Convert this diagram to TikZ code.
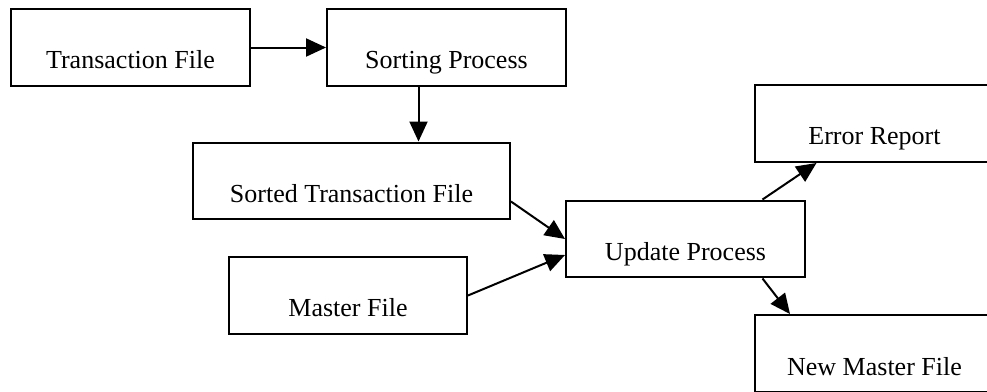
\documentclass[tikz,border=0pt]{standalone}
\usepackage{fontspec}
\setmainfont{Liberation Serif}
\usetikzlibrary{arrows.meta}
\tikzstyle{block} = [rectangle, draw=black, line width=0.04cm, inner sep=0pt, minimum width=4.78cm, text height=1.2cm, text depth=0.34cm, font=\fontsize{14.8}{18}\selectfont]
\tikzstyle{arrow} = [line width=0.04cm, -{Triangle[length=0.4cm, width=0.36cm]}]

\begin{document}
\begin{tikzpicture}[x=0.02cm, y=-0.02cm]
    \useasboundingbox (0,0) rectangle (987,392);
    \clip (0,0) rectangle (987,392);

    \node (tfile) [block] at (130.5,47.5) {Transaction File};
    \node (sortp) [block] at (446.5,47.5) {Sorting Process};
    \node (sorted) [block, minimum width=6.34cm] at (351.5,181) {Sorted Transaction File};
    \node (master) [block, minimum width=4.76cm] at (348,295.5) {Master File};
    \node (update) [block] at (685.5,239) {Update Process};
    \node (error) [block] at (874.5,123.5) {Error Report};
    \node (newmaster) [block] at (874.5,353.5) {New Master File};

    \draw [arrow] (tfile.east) -- (sortp.west);
    \draw [arrow] ([xshift=-0.56cm]sortp.south) -- ([xshift=-0.56cm]sortp.south |- sorted.north);
    \draw [arrow] ([yshift=0.38cm]sorted.south east) -- (update.west);
    \draw [arrow] (master.east) -- ([yshift=-0.32cm]update.west);
    \draw [arrow] ([xshift=1.54cm]update.north) -- ([xshift=-1.16cm]error.south);
    \draw [arrow] ([xshift=1.54cm]update.south) -- ([xshift=-1.69cm]newmaster.north);
\end{tikzpicture}
\end{document}
